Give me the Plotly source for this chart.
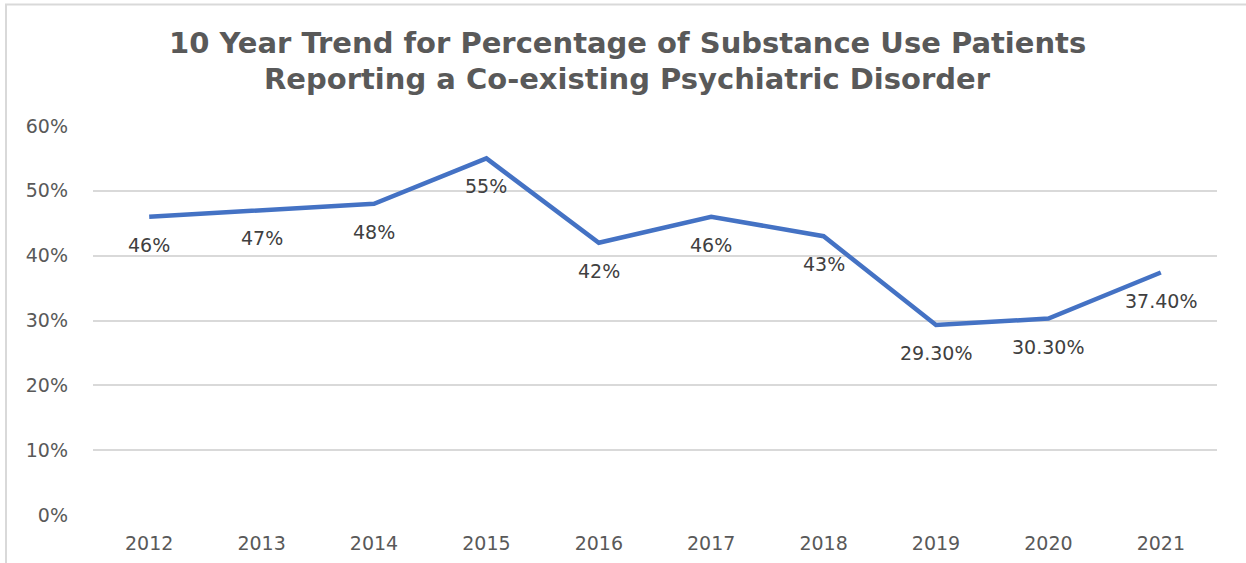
import plotly.graph_objects as go

years = ["2012", "2013", "2014", "2015", "2016", "2017", "2018", "2019", "2020", "2021"]
values = [46, 47, 48, 55, 42, 46, 43, 29.3, 30.3, 37.4]
labels = ["46%", "47%", "48%", "55%", "42%", "46%", "43%", "29.30%", "30.30%", "37.40%"]
y_ticks = [0, 10, 20, 30, 40, 50, 60]
y_tick_text = ["0%", "10%", "20%", "30%", "40%", "50%", "60%"]

W, H = 1246, 563
L, R, T, B = 93, 29, 126, 48
pw, ph = W - L - R, H - T - B
FONT = "DejaVu Sans"

fig = go.Figure()
fig.add_trace(go.Scatter(
    x=years, y=values, mode="lines",
    line=dict(color="#4472C4", width=4.5),
    hoverinfo="skip", showlegend=False,
))

for i, (v, t) in enumerate(zip(values, labels)):
    fig.add_annotation(x=i, y=v, text=t, showarrow=False, yshift=-28,
                       font=dict(family=FONT, size=19, color="#404040"))

title_font = dict(family=FONT, size=29, color="#595959")
fig.add_annotation(xref="paper", yref="paper",
                   x=(627 - L) / pw, y=(H - B - 43) / ph,
                   text="<b>10 Year Trend for Percentage of Substance Use Patients</b>",
                   showarrow=False, font=title_font, xanchor="center", yanchor="middle")
fig.add_annotation(xref="paper", yref="paper",
                   x=(627 - L) / pw, y=(H - B - 79) / ph,
                   text="<b>Reporting a Co-existing Psychiatric Disorder</b>",
                   showarrow=False, font=title_font, xanchor="center", yanchor="middle")

# outer chart border (top and left visible)
fig.add_shape(type="rect", xref="paper", yref="paper",
              x0=(6 - L) / pw, x1=(1260 - L) / pw,
              y0=(H - B - 575) / ph, y1=(H - B - 4.5) / ph,
              line=dict(color="#D9D9D9", width=2), fillcolor="rgba(0,0,0,0)", layer="below")

fig.update_layout(
    width=W, height=H,
    margin=dict(l=L, r=R, t=T, b=B, autoexpand=False),
    paper_bgcolor="white", plot_bgcolor="white",
    xaxis=dict(type="category", range=[-0.5, len(years) - 0.5], autorange=False,
               automargin=False,
               showgrid=False, zeroline=False, showline=False,
               ticks="", tickfont=dict(family=FONT, size=19, color="#595959"),
               ticklabelstandoff=15),
    yaxis=dict(range=[0, 60], autorange=False, tickvals=y_ticks, ticktext=y_tick_text,
               automargin=False,
               showgrid=True, gridcolor="#D9D9D9", gridwidth=1.5, zeroline=False,
               showline=False, ticks="",
               tickfont=dict(family=FONT, size=19, color="#595959"),
               ticklabelstandoff=24),
)

fig.write_html("out.html",
               config={"displayModeBar": False},
               post_script="document.body.style.margin='0';document.body.style.overflow='hidden';")
